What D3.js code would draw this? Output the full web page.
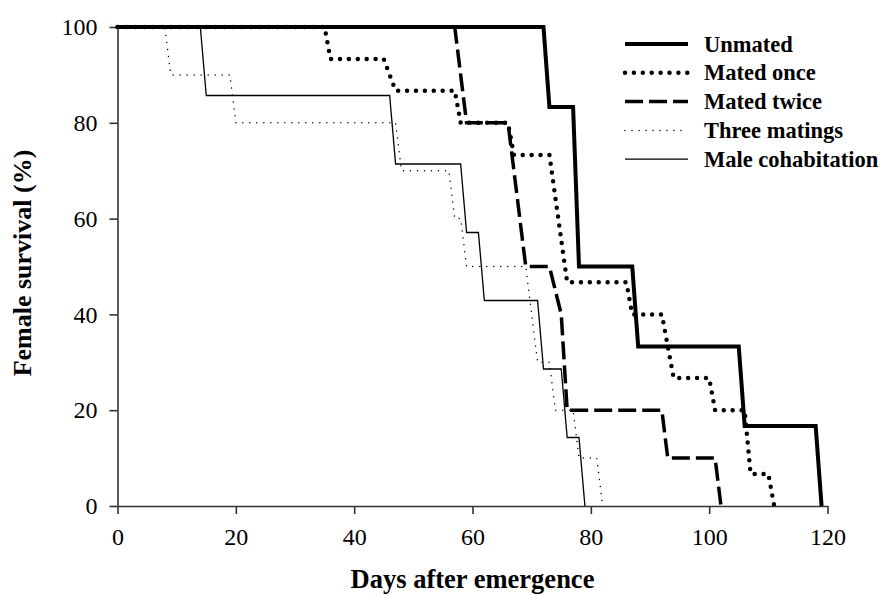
<!DOCTYPE html>
<html>
<head>
<meta charset="utf-8">
<script src="https://cdn.jsdelivr.net/npm/d3@7"></script>
<style>
  body { margin: 0; background: #fff; }
  svg { display: block; font-family: "Liberation Serif", "Times New Roman", serif; }
</style>
</head>
<body>
<svg id="chart" width="888" height="595"></svg>
<script>
// survival data: [day, % alive]
const seriesNames = ["Unmated", "Mated once", "Mated twice", "Three matings", "Male cohabitation"];

const unmated = [[0,100],[72,100],[73,83.3],[77,83.3],[78,50],[87,50],[88,33.3],[105,33.3],[106,16.7],[118,16.7],[119,0]];
const matedOnce = [[0,100],[35,100],[36,93.3],[45,93.3],[47,86.7],[57,86.7],[58,80],[66,80],[67,73.3],[73,73.3],[76,46.7],[86,46.7],[87,40],[92,40],[94,26.7],[100,26.7],[101,20],[106,20],[107,6.7],[110,6.7],[111,0]];
const matedTwice = [[0,100],[57,100],[59,80],[66,80],[69,50],[73,50],[75,40],[76,20],[92,20],[93,10],[101,10],[102,0]];
const threeMatings = [[0,100],[8,100],[9,90],[19,90],[20,80],[47,80],[48,70],[56,70],[57,60],[58,60],[59,50],[69,50],[71,30],[73,30],[74,20],[77,20],[78,10],[81,10],[82,0]];
const maleCohab = [[0,100],[14,100],[15,85.7],[46,85.7],[47,71.4],[58,71.4],[59,57.1],[61,57.1],[62,42.9],[71,42.9],[72,28.6],[75,28.6],[76,14.3],[78,14.3],[79,0]];

const xTicks = [0, 20, 40, 60, 80, 100, 120];
const yTicks = [0, 20, 40, 60, 80, 100];

// line look for each series (same order as seriesNames)
const styles = [
  { width: 4, dash: null, cap: "butt" },
  { width: 4.5, dash: "0 8.9", cap: "round" },
  { width: 3.5, dash: "18 6", cap: "butt" },
  { width: 1.5, dash: "0 7", cap: "round" },
  { width: 1.3, dash: null, cap: "butt" }
];
const allSeries = [unmated, matedOnce, matedTwice, threeMatings, maleCohab];

const svg = d3.select("#chart");
svg.append("rect").attr("width", 888).attr("height", 595).attr("fill", "#fff");

const x = d3.scaleLinear().domain([0, 120]).range([117.5, 827.5]);
const y = d3.scaleLinear().domain([0, 100]).range([506, 27]);

// axes
const yAxis = svg.append("g")
  .attr("transform", `translate(${x(0)},0)`)
  .call(d3.axisLeft(y).tickValues(yTicks).tickSize(8).tickSizeOuter(0).tickPadding(12));
const xAxis = svg.append("g")
  .attr("transform", `translate(0,${y(0)})`)
  .call(d3.axisBottom(x).tickValues(xTicks).tickSize(8).tickSizeOuter(0).tickPadding(14));

[xAxis, yAxis].forEach(ax => {
  ax.select(".domain").attr("stroke", "#333").attr("stroke-width", 1.6);
  ax.selectAll(".tick line").attr("stroke", "#333").attr("stroke-width", 1.6);
  ax.selectAll(".tick text")
    .attr("fill", "#000")
    .style("font-family", "'Liberation Serif', serif")
    .style("font-size", "24px");
});

// survival curves
const line = d3.line().x(d => x(d[0])).y(d => y(d[1]));
// draw thin ones first so the thick ones sit on top
[4, 3, 2, 1, 0].forEach(i => {
  const s = styles[i];
  svg.append("path")
    .datum(allSeries[i])
    .attr("d", line)
    .attr("fill", "none")
    .attr("stroke", "#000")
    .attr("stroke-width", s.width)
    .attr("stroke-dasharray", s.dash)
    .attr("stroke-linecap", s.cap)
    .attr("stroke-linejoin", "miter");
});

// legend
const legend = svg.append("g").attr("transform", "translate(625,44)");
seriesNames.forEach((name, i) => {
  const s = styles[i];
  const row = legend.append("g").attr("transform", `translate(0,${i * 28.8})`);
  row.append("line")
    .attr("x1", 0).attr("x2", 63).attr("y1", 0).attr("y2", 0)
    .attr("stroke", "#000")
    .attr("stroke-width", s.width)
    .attr("stroke-dasharray", s.dash)
    .attr("stroke-linecap", s.cap);
  row.append("text")
    .attr("x", 79).attr("y", 7.6)
    .attr("font-size", 22.5)
    .attr("font-weight", "bold")
    .text(name);
});

// axis titles
svg.append("text")
  .attr("x", x(60)).attr("y", 588)
  .attr("text-anchor", "middle")
  .attr("font-size", 26.5)
  .attr("font-weight", "bold")
  .text("Days after emergence");

svg.append("text")
  .attr("transform", "translate(31,263) rotate(-90)")
  .attr("text-anchor", "middle")
  .attr("font-size", 26)
  .attr("font-weight", "bold")
  .text("Female survival (%)");
</script>
</body>
</html>
